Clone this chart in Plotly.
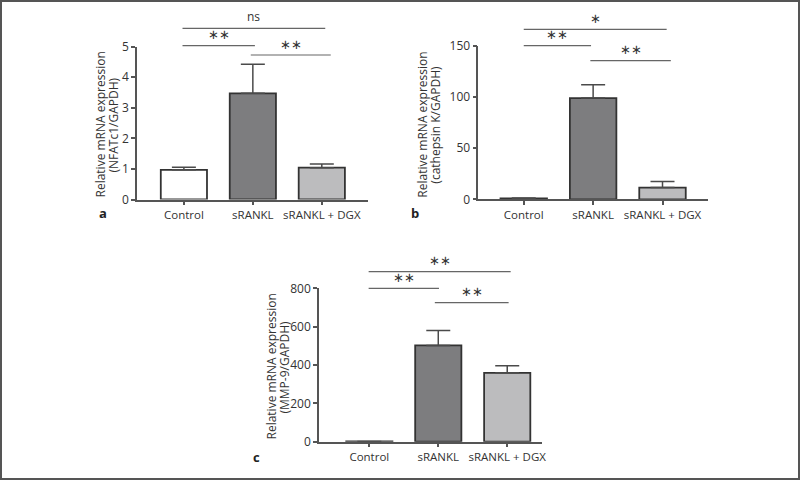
import plotly.graph_objects as go

categories = ["Control", "sRANKL", "sRANKL + DGX"]

nfatc1_mean = [0.97, 3.47, 1.04]
nfatc1_err = [0.08, 0.95, 0.12]

ctsk_mean = [0.8, 99, 11.5]
ctsk_err = [0.4, 13, 5.8]

mmp9_mean = [1, 502, 359]
mmp9_err = [0.5, 78, 37]

bar_colors = ["#ffffff", "#7d7d7f", "#bcbcbe"]

title_line1 = "Relative mRNA expression"
title_a = "(NFATc1/GAPDH)"
title_b = "(cathepsin K/GAPDH)"
title_c = "(MMP-9/GAPDH)"

# significance brackets: (x0 category idx, x1, label)
sig_a = [(-0.02, 2.05, "ns"), (-0.02, 1.03, "∗∗"), (0.97, 2.13, "∗∗")]
sig_b = [(0.0, 2.06, "∗"), (0.0, 0.97, "∗∗"), (0.96, 2.12, "∗∗")]
sig_c = [(-0.01, 2.05, "∗∗"), (-0.01, 1.01, "∗∗"), (0.95, 2.02, "∗∗")]

W, H = 800, 480
FONT = "Open Sans"
TXT = "#333333"
AX = "#555555"

def py(v):
    return 1 - v / H

panels = [
    dict(mean=nfatc1_mean, err=nfatc1_err, xd=(137, 368), yd=(46.5, 199.5), yr=[0, 5], dtick=1,
         xr=[-0.68, 2.67], title2=title_a, tx=(99.5, 112.5),
         sig=sig_a, sig_y=[28.3, 45.7, 55], label="a", lab_pos=(103, 213)),
    dict(mean=ctsk_mean, err=ctsk_err, xd=(478.3, 708.3), yd=(46, 199.3), yr=[0, 150], dtick=50,
         xr=[-0.655, 2.66], title2=title_b, tx=(423, 436),
         sig=sig_b, sig_y=[29.3, 45.7, 60.7], label="b", lab_pos=(415, 213)),
    dict(mean=mmp9_mean, err=mmp9_err, xd=(319, 541.7), yd=(288.3, 441.7), yr=[0, 800], dtick=200,
         xr=[-0.73, 2.5], title2=title_c, tx=(270.5, 283.5),
         sig=sig_c, sig_y=[271.7, 288.3, 302.7], label="c", lab_pos=(256, 457)),
]

fig = go.Figure()
shapes = []
annotations = []

for i, p in enumerate(panels):
    n = "" if i == 0 else str(i + 1)
    xa, ya = "x" + n, "y" + n
    fig.add_trace(go.Bar(
        x=categories, y=p["mean"], xaxis=xa, yaxis=ya, width=0.67,
        marker=dict(color=bar_colors, line=dict(color="#333333", width=1.8)),
        error_y=dict(type="data", array=p["err"], arrayminus=[0, 0, 0], symmetric=False,
                     color="#4a4a4a", thickness=1.5, width=12),
        showlegend=False,
    ))
    fig.layout["xaxis" + n] = dict(
        domain=[p["xd"][0] / W, p["xd"][1] / W], anchor=ya, range=p["xr"],
        type="category", categoryorder="array", categoryarray=categories,
        showline=True, linecolor=AX, linewidth=1.5, ticks="outside", ticklen=4,
        tickcolor=AX, tickwidth=1.5, showgrid=False, zeroline=False, automargin=False,
        tickfont=dict(family=FONT, size=11.5, color=TXT),
    )
    fig.layout["yaxis" + n] = dict(
        domain=[py(p["yd"][1]), py(p["yd"][0])], anchor=xa, range=p["yr"], dtick=p["dtick"],
        showline=True, linecolor=AX, linewidth=1.5, ticks="outside", ticklen=4,
        tickcolor=AX, tickwidth=1.5, showgrid=False, zeroline=False, automargin=False,
        tickfont=dict(family=FONT, size=12, color=TXT),
    )
    yc = py((p["yd"][0] + p["yd"][1]) / 2 + 2)
    for txt, xx in zip([title_line1, p["title2"]], p["tx"]):
        annotations.append(dict(xref="paper", yref="paper", x=xx / W, y=yc, textangle=-90,
                                xanchor="center", yanchor="middle", text=txt, showarrow=False,
                                font=dict(family=FONT, size=12, color=TXT)))
    for (x0, x1, lab), yy in zip(p["sig"], p["sig_y"]):
        shapes.append(dict(type="line", xref=xa, yref="paper", x0=x0, x1=x1,
                           y0=py(yy), y1=py(yy), line=dict(color="#666666", width=1.2)))
        annotations.append(dict(xref=xa, yref="paper", x=(x0 + x1) / 2, y=py(yy - 1.5),
                                yanchor="bottom", xanchor="center", text=lab, showarrow=False,
                                font=dict(family=FONT if lab == "ns" else "DejaVu Sans",
                                          size=12 if lab == "ns" else 13, color=TXT)))
    annotations.append(dict(xref="paper", yref="paper", x=p["lab_pos"][0] / W, y=py(p["lab_pos"][1]),
                            xanchor="center", yanchor="middle", text="<b>" + p["label"] + "</b>",
                            showarrow=False, font=dict(family=FONT, size=13, color="#222222")))

shapes.append(dict(type="rect", xref="paper", yref="paper", x0=1 / W, x1=1 - 1 / W,
                   y0=1 / H, y1=1 - 1 / H, line=dict(color="#555555", width=2)))

fig.update_layout(
    width=W, height=H, margin=dict(l=0, r=0, t=0, b=0, pad=0, autoexpand=False),
    paper_bgcolor="white", plot_bgcolor="white",
    shapes=shapes, annotations=annotations, bargap=0.3,
)

fig.write_html(
    "out.html",
    config={"displayModeBar": False},
    post_script="document.body.style.margin='0';document.body.style.overflow='hidden';",
)
